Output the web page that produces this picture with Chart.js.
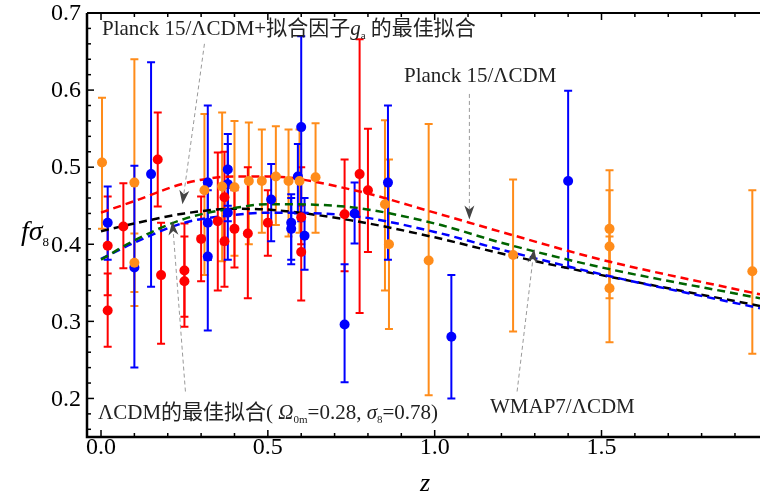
<!DOCTYPE html>
<html>
<head>
<meta charset="utf-8">
<script src="https://cdn.jsdelivr.net/npm/chart.js@4.4.1/dist/chart.umd.min.js"></script>
<style>
  body { margin: 0; background: #fff; }
  #wrap { position: relative; width: 765px; height: 494px; }
  .lbl { position: absolute; white-space: nowrap; color: #222; font-family: "Liberation Serif", "Noto Sans CJK SC", serif; font-size: 21px; line-height: 1; }
  .lbl sub { font-size: 11px; vertical-align: -4px; }
  .lbl i { font-style: italic; }
</style>
</head>
<body>
<div id="wrap">
  <canvas id="chart" width="765" height="494"></canvas>
  <div class="lbl" style="left:102px;top:18px">Planck 15/ΛCDM+拟合因子<i>g</i><sub>a</sub> 的最佳拟合</div>
  <div class="lbl" style="left:404px;top:65px">Planck 15/ΛCDM</div>
  <div class="lbl" style="left:490px;top:396px">WMAP7/ΛCDM</div>
  <div class="lbl" style="left:98px;top:402px">ΛCDM的最佳拟合( <i>Ω</i><sub>0m</sub>=0.28, <i>σ</i><sub>8</sub>=0.78)</div>
  <div class="lbl" style="left:21px;top:217px;font-size:28px;color:#000"><i>fσ</i><sub style="font-size:13px;vertical-align:-6px">8</sub></div>
  <div class="lbl" style="left:420px;top:470px;font-size:26px;color:#000"><i>z</i></div>
</div>
<script>
// axis ticks
const xMajor = [0, 0.5, 1.0, 1.5];
const yMajor = [0.2, 0.3, 0.4, 0.5, 0.6, 0.7];

// orange data (z, f sigma8, lower, upper)
const orangeZ  = [0.003, 0.10, 0.10, 0.31, 0.363, 0.40, 0.443, 0.482, 0.524, 0.562, 0.595, 0.643, 0.851, 0.863, 0.982, 1.235, 1.524, 1.524, 1.524, 1.952];
const orangeV  = [0.506, 0.48, 0.376, 0.47, 0.475, 0.474, 0.482, 0.482, 0.488, 0.482, 0.482, 0.487, 0.452, 0.40, 0.379, 0.386, 0.42, 0.397, 0.343, 0.365];
const orangeLo = [0.42, 0.32, 0.338, 0.36, 0.378, 0.385, 0.40, 0.415, 0.425, 0.41, 0.415, 0.415, 0.34, 0.29, 0.204, 0.287, 0.34, 0.33, 0.273, 0.258];
const orangeHi = [0.59, 0.64, 0.414, 0.569, 0.571, 0.56, 0.558, 0.549, 0.553, 0.549, 0.549, 0.557, 0.561, 0.51, 0.556, 0.484, 0.496, 0.47, 0.41, 0.47];

// red data
const redZ  = [0.02, 0.02, 0.067, 0.17, 0.18, 0.25, 0.25, 0.30, 0.35, 0.37, 0.37, 0.40, 0.44, 0.50, 0.60, 0.60, 0.73, 0.775, 0.80];
const redV  = [0.398, 0.314, 0.423, 0.51, 0.36, 0.366, 0.352, 0.407, 0.43, 0.461, 0.404, 0.42, 0.414, 0.428, 0.435, 0.39, 0.439, 0.491, 0.47];
const redLo = [0.334, 0.267, 0.369, 0.449, 0.271, 0.306, 0.293, 0.352, 0.34, 0.40, 0.345, 0.37, 0.33, 0.385, 0.40, 0.327, 0.365, 0.311, 0.39];
const redHi = [0.462, 0.362, 0.479, 0.571, 0.428, 0.427, 0.41, 0.462, 0.519, 0.52, 0.46, 0.47, 0.50, 0.47, 0.50, 0.45, 0.51, 0.666, 0.55];

// blue data
const blueZ  = [0.02, 0.10, 0.15, 0.32, 0.32, 0.32, 0.38, 0.38, 0.38, 0.51, 0.57, 0.57, 0.59, 0.60, 0.61, 0.73, 0.76, 0.86, 1.05, 1.40];
const blueV  = [0.428, 0.37, 0.491, 0.48, 0.428, 0.384, 0.497, 0.478, 0.441, 0.458, 0.428, 0.42, 0.488, 0.552, 0.411, 0.296, 0.44, 0.48, 0.28, 0.482];
const blueLo = [0.38, 0.24, 0.345, 0.38, 0.38, 0.288, 0.45, 0.43, 0.38, 0.404, 0.38, 0.374, 0.44, 0.43, 0.367, 0.221, 0.401, 0.38, 0.20, 0.37];
const blueHi = [0.475, 0.502, 0.636, 0.58, 0.47, 0.43, 0.543, 0.53, 0.50, 0.504, 0.465, 0.46, 0.53, 0.67, 0.46, 0.374, 0.48, 0.58, 0.36, 0.599];

// model curves
const curveZ     = [0, 0.1, 0.25, 0.4, 0.5, 0.75, 1.0, 1.2, 1.5, 1.975];
const planckGa   = [0.441, 0.456, 0.479, 0.488, 0.488, 0.471, 0.441, 0.416, 0.380, 0.335];
const planck15   = [0.380, 0.405, 0.433, 0.447, 0.452, 0.448, 0.427, 0.402, 0.370, 0.330];
const wmap7      = [0.381, 0.402, 0.428, 0.438, 0.441, 0.437, 0.416, 0.393, 0.361, 0.317];
const lcdmBest   = [0.417, 0.427, 0.440, 0.446, 0.445, 0.431, 0.409, 0.388, 0.360, 0.320];

// annotation arrows: [fromZ, fromY, toZ, toY]
const arrows = [
  [0.31, 0.66, 0.244, 0.452],
  [1.104, 0.595, 1.104, 0.432],
  [1.247, 0.209, 1.298, 0.394],
  [0.253, 0.209, 0.214, 0.43]
];

const pts = (zs, vs, lo, hi) => zs.map((z, i) => ({ x: z, y: vs[i], lo: lo[i], hi: hi[i] }));
const crv = (vs) => curveZ.map((z, i) => ({ x: z, y: vs[i] }));

function pointSet(data, color) {
  return { type: "scatter", data, backgroundColor: color, borderWidth: 0, pointRadius: 5, pointHoverRadius: 5, errColor: color };
}
function curveSet(data, color) {
  return { type: "line", data, borderColor: color, borderWidth: 2.5, borderDash: [8, 5], pointRadius: 0, fill: false, cubicInterpolationMode: "monotone" };
}

// error bars under markers
const errorBars = {
  id: "errorBars",
  beforeDatasetsDraw(chart) {
    const { ctx, chartArea, scales: { x, y } } = chart;
    ctx.save();
    ctx.beginPath();
    ctx.rect(chartArea.left, chartArea.top, chartArea.width, chartArea.height);
    ctx.clip();
    chart.data.datasets.forEach((ds) => {
      if (!ds.errColor) return;
      ctx.strokeStyle = ds.errColor;
      ctx.lineWidth = 2;
      ds.data.forEach((p) => {
        const px = x.getPixelForValue(p.x);
        const y0 = y.getPixelForValue(p.lo), y1 = y.getPixelForValue(p.hi);
        ctx.beginPath();
        ctx.moveTo(px, y0); ctx.lineTo(px, y1);
        ctx.moveTo(px - 4, y0); ctx.lineTo(px + 4, y0);
        ctx.moveTo(px - 4, y1); ctx.lineTo(px + 4, y1);
        ctx.stroke();
      });
    });
    ctx.restore();
  }
};

// grey dashed pointers
const pointers = {
  id: "pointers",
  afterDatasetsDraw(chart) {
    const { ctx, scales: { x, y } } = chart;
    ctx.save();
    arrows.forEach(([z0, v0, z1, v1]) => {
      const ax = x.getPixelForValue(z0), ay = y.getPixelForValue(v0);
      const bx = x.getPixelForValue(z1), by = y.getPixelForValue(v1);
      const c = Math.cos(Math.atan2(by - ay, bx - ax)), s = Math.sin(Math.atan2(by - ay, bx - ax));
      ctx.strokeStyle = "#999";
      ctx.lineWidth = 1;
      ctx.setLineDash([4, 3]);
      ctx.beginPath();
      ctx.moveTo(ax, ay);
      ctx.lineTo(bx - 10 * c, by - 10 * s);
      ctx.stroke();
      ctx.setLineDash([]);
      ctx.fillStyle = "#444";
      ctx.beginPath();
      ctx.moveTo(bx, by);
      ctx.lineTo(bx - 14 * c + 5 * s, by - 14 * s - 5 * c);
      ctx.lineTo(bx - 10 * c, by - 10 * s);
      ctx.lineTo(bx - 14 * c - 5 * s, by - 14 * s + 5 * c);
      ctx.closePath();
      ctx.fill();
    });
    ctx.restore();
  }
};

// frame, inward ticks and tick labels
const frame = {
  id: "frame",
  afterDraw(chart) {
    const { ctx, chartArea: a, scales: { x, y } } = chart;
    ctx.save();
    ctx.strokeStyle = "#000";
    ctx.lineWidth = 1.5;
    for (let i = 0; i <= 19; i++) {
      const px = x.getPixelForValue(i / 10);
      const len = i % 5 === 0 ? 7 : 4;
      ctx.beginPath();
      ctx.moveTo(px, a.bottom); ctx.lineTo(px, a.bottom - len);
      ctx.moveTo(px, a.top); ctx.lineTo(px, a.top + len);
      ctx.stroke();
    }
    for (let i = 8; i <= 35; i++) {
      const py = y.getPixelForValue(i * 0.02);
      const len = i % 5 === 0 ? 7 : 4;
      ctx.beginPath();
      ctx.moveTo(a.left, py); ctx.lineTo(a.left + len, py);
      ctx.stroke();
    }
    ctx.lineWidth = 2.5;
    ctx.beginPath();
    ctx.moveTo(a.left, a.top); ctx.lineTo(a.left, a.bottom); ctx.lineTo(a.right, a.bottom);
    ctx.stroke();
    ctx.lineWidth = 2;
    ctx.beginPath();
    ctx.moveTo(a.left, a.top); ctx.lineTo(a.right, a.top);
    ctx.stroke();

    ctx.fillStyle = "#000";
    ctx.font = "24px 'Liberation Serif'";
    ctx.textBaseline = "middle";
    ctx.textAlign = "center";
    xMajor.forEach((v) => ctx.fillText(v.toFixed(1), x.getPixelForValue(v), a.bottom + 11));
    ctx.textAlign = "right";
    yMajor.forEach((v) => ctx.fillText(v.toFixed(1), a.left - 6, y.getPixelForValue(v) + 1));
    ctx.restore();
  }
};

new Chart(document.getElementById("chart"), {
  data: {
    datasets: [
      pointSet(pts(orangeZ, orangeV, orangeLo, orangeHi), "#ff8c1a"),
      pointSet(pts(redZ, redV, redLo, redHi), "#ff0000"),
      pointSet(pts(blueZ, blueV, blueLo, blueHi), "#0000ff"),
      curveSet(crv(planckGa), "#ff0000"),
      curveSet(crv(planck15), "#006400"),
      curveSet(crv(wmap7), "#0000ff"),
      curveSet(crv(lcdmBest), "#000000")
    ]
  },
  options: {
    responsive: false,
    animation: false,
    layout: { padding: { top: 13, right: 0, left: 0, bottom: 0 } },
    plugins: { legend: { display: false }, tooltip: { enabled: false } },
    scales: {
      x: {
        type: "linear", min: -0.042, max: 1.975,
        afterFit: (s) => { s.height = 57; },
        ticks: { display: false },
        grid: { display: false },
        border: { display: false }
      },
      y: {
        type: "linear", min: 0.15, max: 0.7,
        afterFit: (s) => { s.width = 87; },
        ticks: { display: false },
        grid: { display: false },
        border: { display: false }
      }
    }
  },
  plugins: [errorBars, pointers, frame]
});
</script>
</body>
</html>
